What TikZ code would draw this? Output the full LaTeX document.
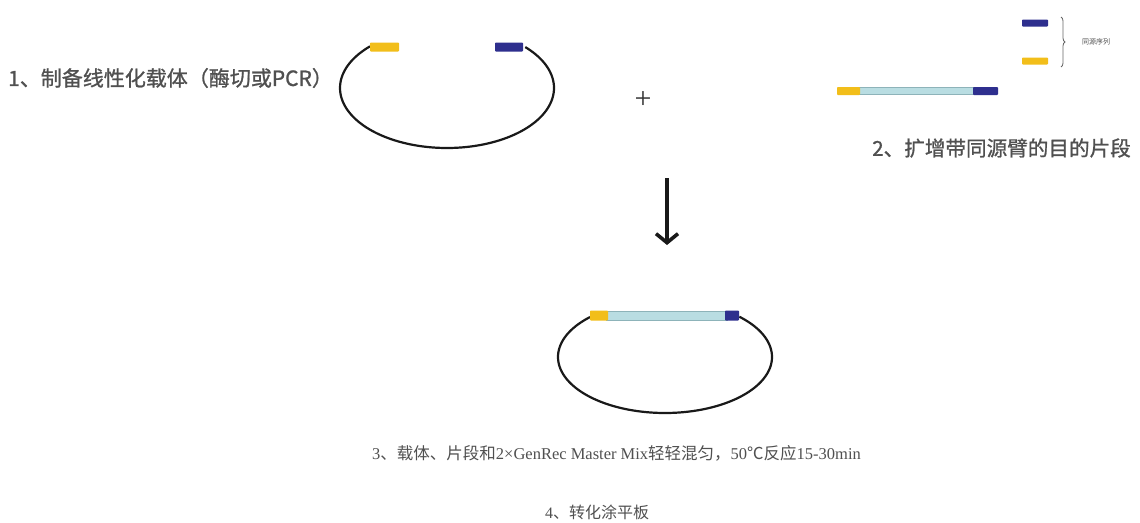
\documentclass[tikz,border=0pt]{standalone}
\usepackage{fontspec}
\setmainfont{Liberation Serif}
\newfontfamily\cjk{Noto Sans CJK SC}
\newfontfamily\cjkmed[FakeBold=1]{Noto Sans CJK SC}
\usetikzlibrary{arrows.meta,decorations.pathreplacing}
\definecolor{armY}{HTML}{F2BE1A}
\definecolor{armB}{HTML}{2E2F8E}
\definecolor{insF}{HTML}{B9DDE2}
\definecolor{insD}{HTML}{8DB3B9}
\definecolor{txtG}{HTML}{505050}
\definecolor{txtS}{HTML}{505050}
\begin{document}
\begin{tikzpicture}[x=1pt,y=-1pt,
  yarm/.style={fill=armY,draw=none,rounded corners=0.8pt},
  barm/.style={fill=armB,draw=none,rounded corners=0.8pt},
  insert/.style={fill=insF,draw=insD,line width=0.8pt},
  ring/.style={draw=black!90,line width=2.2pt},
  sanslabel/.style={anchor=west,inner sep=0pt,text=txtG,font=\cjkmed\fontsize{21}{23}\selectfont},
  seriflabel/.style={anchor=west,inner sep=0pt,text=txtS,font=\fontsize{16}{18}\selectfont}]
\useasboundingbox (0,0) rectangle (1140,522);
\fill[white] (0,0) rectangle (1140,522);

% step 1 : linearised vector
\node[sanslabel] (t1) at (8,78) {1、制备线性化载体（酶切或PCR）};
\draw[ring] plot[domain=224:-43,samples=120] ({447+107*cos(\x)},{88+60*sin(\x)});
\path[yarm] (370,42.5) rectangle (399,51.5);
\path[barm] (495,42.5) rectangle (523,51.5);

% plus
\node[inner sep=0pt,font=\fontsize{30}{30}\selectfont,text=black!80] (plus) at (643,100) {+};

% step 2 : fragment with homology arms
\path[insert] (858,87.5) rectangle (975,94.5);
\path[yarm] (837,87) rectangle (860,95);
\path[barm] (973,87) rectangle (998,95);
\path[barm] (1022,19.5) rectangle (1048,26.5);
\path[yarm] (1022,57.5) rectangle (1048,64.5);
\coordinate (brT) at (1061,17);
\coordinate (brB) at (1061,67);
\draw[black!60,line width=0.8pt,decorate,decoration={brace,amplitude=4pt}] (brT) -- (brB);
\node[anchor=west,inner sep=0pt,text=txtG,font=\cjk\fontsize{7}{8}\selectfont] (hom) at (1082,42) {同源序列};
\node[sanslabel,font=\cjkmed\fontsize{20.6}{23}\selectfont] (t2) at (872,148) {2、扩增带同源臂的目的片段};

% arrow
\coordinate (arrS) at (667,178);
\coordinate (arrE) at (667,245);
\draw[black!90,line width=3.6pt,-{Straight Barb[length=9pt,width=22pt]}] (arrS) -- (arrE);

% recombined plasmid
\draw[ring] plot[domain=225.5:-46,samples=120] ({665+107*cos(\x)},{357+56*sin(\x)});
\path[insert] (606,311) rectangle (727,320);
\path[yarm] (590,310.5) rectangle (608,320.5);
\path[barm] (725,310.5) rectangle (739,320.5);

% steps 3 and 4
\node[seriflabel,font=\fontsize{16.5}{18}\selectfont] (t3) at (372,453) {3{\cjk 、载体、片段和}2×GenRec Master Mix{\cjk 轻轻混匀，}50{\cjk ℃反应}15-30min};
\node[seriflabel] (t4) at (545,512) {4{\cjk 、转化涂平板}};
\end{tikzpicture}
\end{document}
